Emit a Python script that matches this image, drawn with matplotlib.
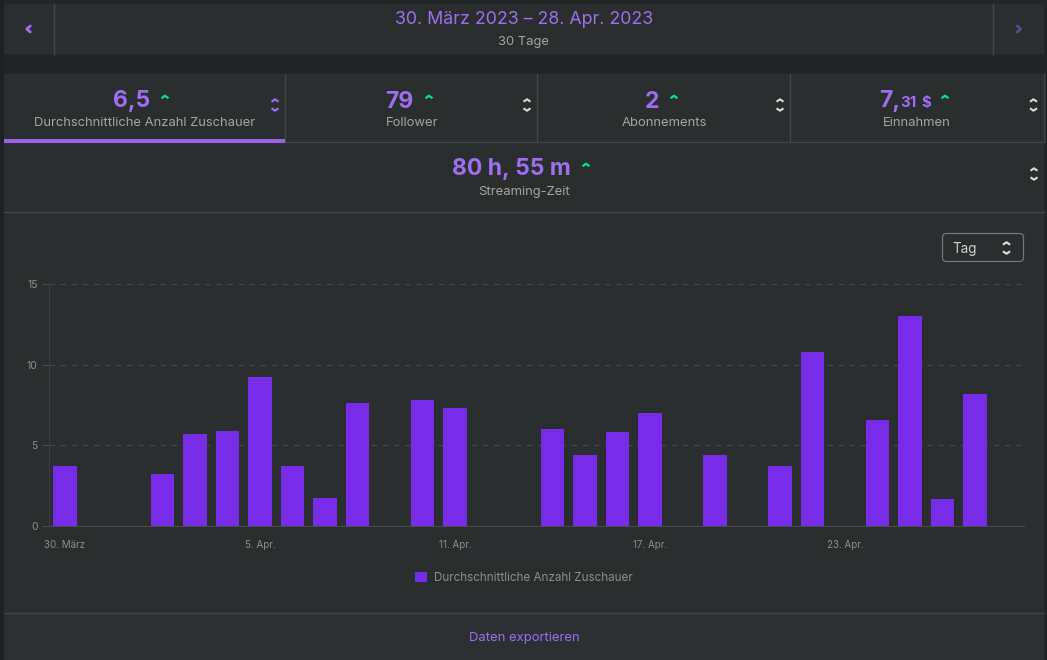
"""Twitch-style stream summary panel with daily average viewers bar chart."""
import matplotlib
matplotlib.use("Agg")
import matplotlib.pyplot as plt
from matplotlib.patches import FancyBboxPatch, Rectangle

W, H = 1047, 660

days = list(range(30))
viewers = [3.7, 0, 0, 3.25, 5.7, 5.9, 9.25, 3.75, 1.75, 7.6, 0, 7.8, 7.3, 0, 0,
           6.0, 4.4, 5.8, 7.0, 0, 4.4, 0, 3.75, 10.8, 0, 6.6, 13.0, 1.7, 8.2, 0]
tick_days = [0, 6, 12, 18, 24]
tick_labels = ["30. März", "5. Apr.", "11. Apr.", "17. Apr.", "23. Apr."]
y_ticks = [0, 5, 10, 15]
series_name = "Durchschnittliche Anzahl Zuschauer"

PANEL = "#2b2e2f"
FOOT = "#2d3032"
BACK = "#232627"
LINE = "#434648"
PURPLE = "#a06ef0"
BAR = "#772ce8"
GREY = "#a8a59c"
GREEN = "#00e58f"

plt.rcParams["font.family"] = ["Inter", "DejaVu Sans"]

fig = plt.figure(figsize=(W / 100, H / 100), dpi=100, facecolor=BACK)

# page chrome, drawn in pixel coordinates (y down)
ui = fig.add_axes([0, 0, 1, 1])
ui.set_xlim(0, W)
ui.set_ylim(H, 0)
ui.axis("off")


def box(x0, y0, x1, y1, color, z=1):
    ui.add_patch(Rectangle((x0, y0), x1 - x0, y1 - y0, fc=color, ec="none", zorder=z))


def label(x, y, s, size, color=GREY, weight="normal", ha="center"):
    ui.text(x, y, s, fontsize=size * 0.72, color=color, fontweight=weight,
            ha=ha, va="center", zorder=5)


def chevron(x, y, color, up=True, w=3.5, h=2.5, lw=1.6):
    d = h if up else -h
    ui.plot([x - w, x, x + w], [y + d / 2, y - d / 2, y + d / 2], color=color,
            lw=lw, solid_capstyle="butt", zorder=5)


def sorter(x, y, color="#dcdcdc", w=3.5, gap=4.5):
    chevron(x, y - gap, color, True, w=w, h=2.4, lw=1.5)
    chevron(x, y + gap, color, False, w=w, h=2.4, lw=1.5)


def side_arrow(x, y, color, left=True):
    d = 1.8 if left else -1.8
    ui.plot([x + d, x - d, x + d], [y - 3, y, y + 3], color=color, lw=2,
            solid_capstyle="round", zorder=5)


box(0, 0, 4, H, "#1f2224")
# date bar
box(4, 4, 1044, 54, PANEL)
ui.plot([54, 54], [4, 54], color=LINE, lw=1, zorder=2)
ui.plot([993, 993], [4, 54], color=LINE, lw=1, zorder=2)
side_arrow(28.5, 29, PURPLE, True)
side_arrow(1019, 29, "#5f4a8c", False)
label(524, 19.5, "30. März 2023 – 28. Apr. 2023", 17.8, PURPLE)
label(524, 41.5, "30 Tage", 13)

# stat panel
box(4, 74, 1044, H, PANEL)
box(4, 613, 1044, H, FOOT)
for x in (285, 537, 790):
    ui.plot([x, x], [74, 142], color=LINE, lw=1, zorder=2)
ui.plot([1043.5, 1043.5], [74, 142], color=LINE, lw=1, zorder=2)
ui.plot([4, 1044], [142, 142], color=LINE, lw=1, zorder=2)
ui.plot([4, 1044], [212, 212], color=LINE, lw=1, zorder=2)
ui.plot([4, 1044], [613, 613], color=LINE, lw=1, zorder=2)
box(4, 139, 285, 143, "#9a62e8", z=3)

label(132, 101.5, "6,5", 23, PURPLE, "bold")
chevron(165, 97, GREEN)
label(144.5, 122.5, series_name, 13)
sorter(275, 105, PURPLE)

label(399, 101.5, "79", 23, PURPLE, "bold")
chevron(429, 97, GREEN)
label(412, 122.5, "Follower", 13)
sorter(527, 105)

label(652, 101.5, "2", 23, PURPLE, "bold")
chevron(674, 97, GREEN)
label(664.5, 122.5, "Abonnements", 13)
sorter(780, 105)

label(879, 101.5, "7,", 23, PURPLE, "bold", ha="left")
label(900, 103, "31", 15, PURPLE, "bold", ha="left")
label(921.5, 103.5, "$", 15, PURPLE, "bold", ha="left")
chevron(945, 97, GREEN)
label(917, 122.5, "Einnahmen", 13)
sorter(1033.5, 105)

label(511, 169.5, "80 h, 55 m", 23, PURPLE, "bold")
chevron(586, 165, GREEN)
label(524, 191.5, "Streaming-Zeit", 13)
sorter(1034, 174)

# period dropdown
ui.add_patch(FancyBboxPatch((942.5, 233.5), 81, 28, boxstyle="round,pad=0,rounding_size=4",
                            fc=PANEL, ec="#74777a", lw=0.9, zorder=2))
label(952, 249, "Tag", 13.5, "#d0d0d0", ha="left")
sorter(1006.5, 248, "#e0e0e0", w=3.6, gap=4.5)

label(524, 637.5, "Daten exportieren", 13, PURPLE)

# bar chart, axes span the 30 day slots
left, right, top, bottom = 48.75, 1023.75, 284, 526
ax = fig.add_axes([left / W, 1 - bottom / H, (right - left) / W, (bottom - top) / H])
ax.patch.set_alpha(0)
ax.bar(days, viewers, width=0.72, color=BAR, zorder=3, label=series_name)
ax.set_xlim(-0.5, 29.5)
ax.set_ylim(0, 15)
ax.set_yticks(y_ticks)
ax.set_xticks(tick_days, tick_labels)
ax.yaxis.grid(True, color="#45484a", lw=0.8, ls=(0, (5, 5)))
ax.set_axisbelow(True)
for side in ("top", "right"):
    ax.spines[side].set_visible(False)
ax.spines["left"].set_color("#3c3f41")
ax.spines["bottom"].set_color("#484b4d")
for side in ("left", "bottom"):
    ax.spines[side].set_linewidth(0.8)
ax.tick_params(axis="y", length=5, width=0.8, color="#484b4d", labelcolor="#8f8f8f",
               labelsize=7.5, pad=3)
ax.tick_params(axis="x", length=0, labelcolor="#8f8f8f", labelsize=7, pad=10)

leg = ax.legend(loc="upper center", bbox_to_anchor=(0.4874, -0.165), frameon=False, ncol=1,
                handlelength=1.03, handleheight=1.03, handletextpad=0.55, borderpad=0,
                fontsize=8.4, labelcolor="#8f8f8f")

fig.savefig("out.png", dpi=100, facecolor=BACK)
